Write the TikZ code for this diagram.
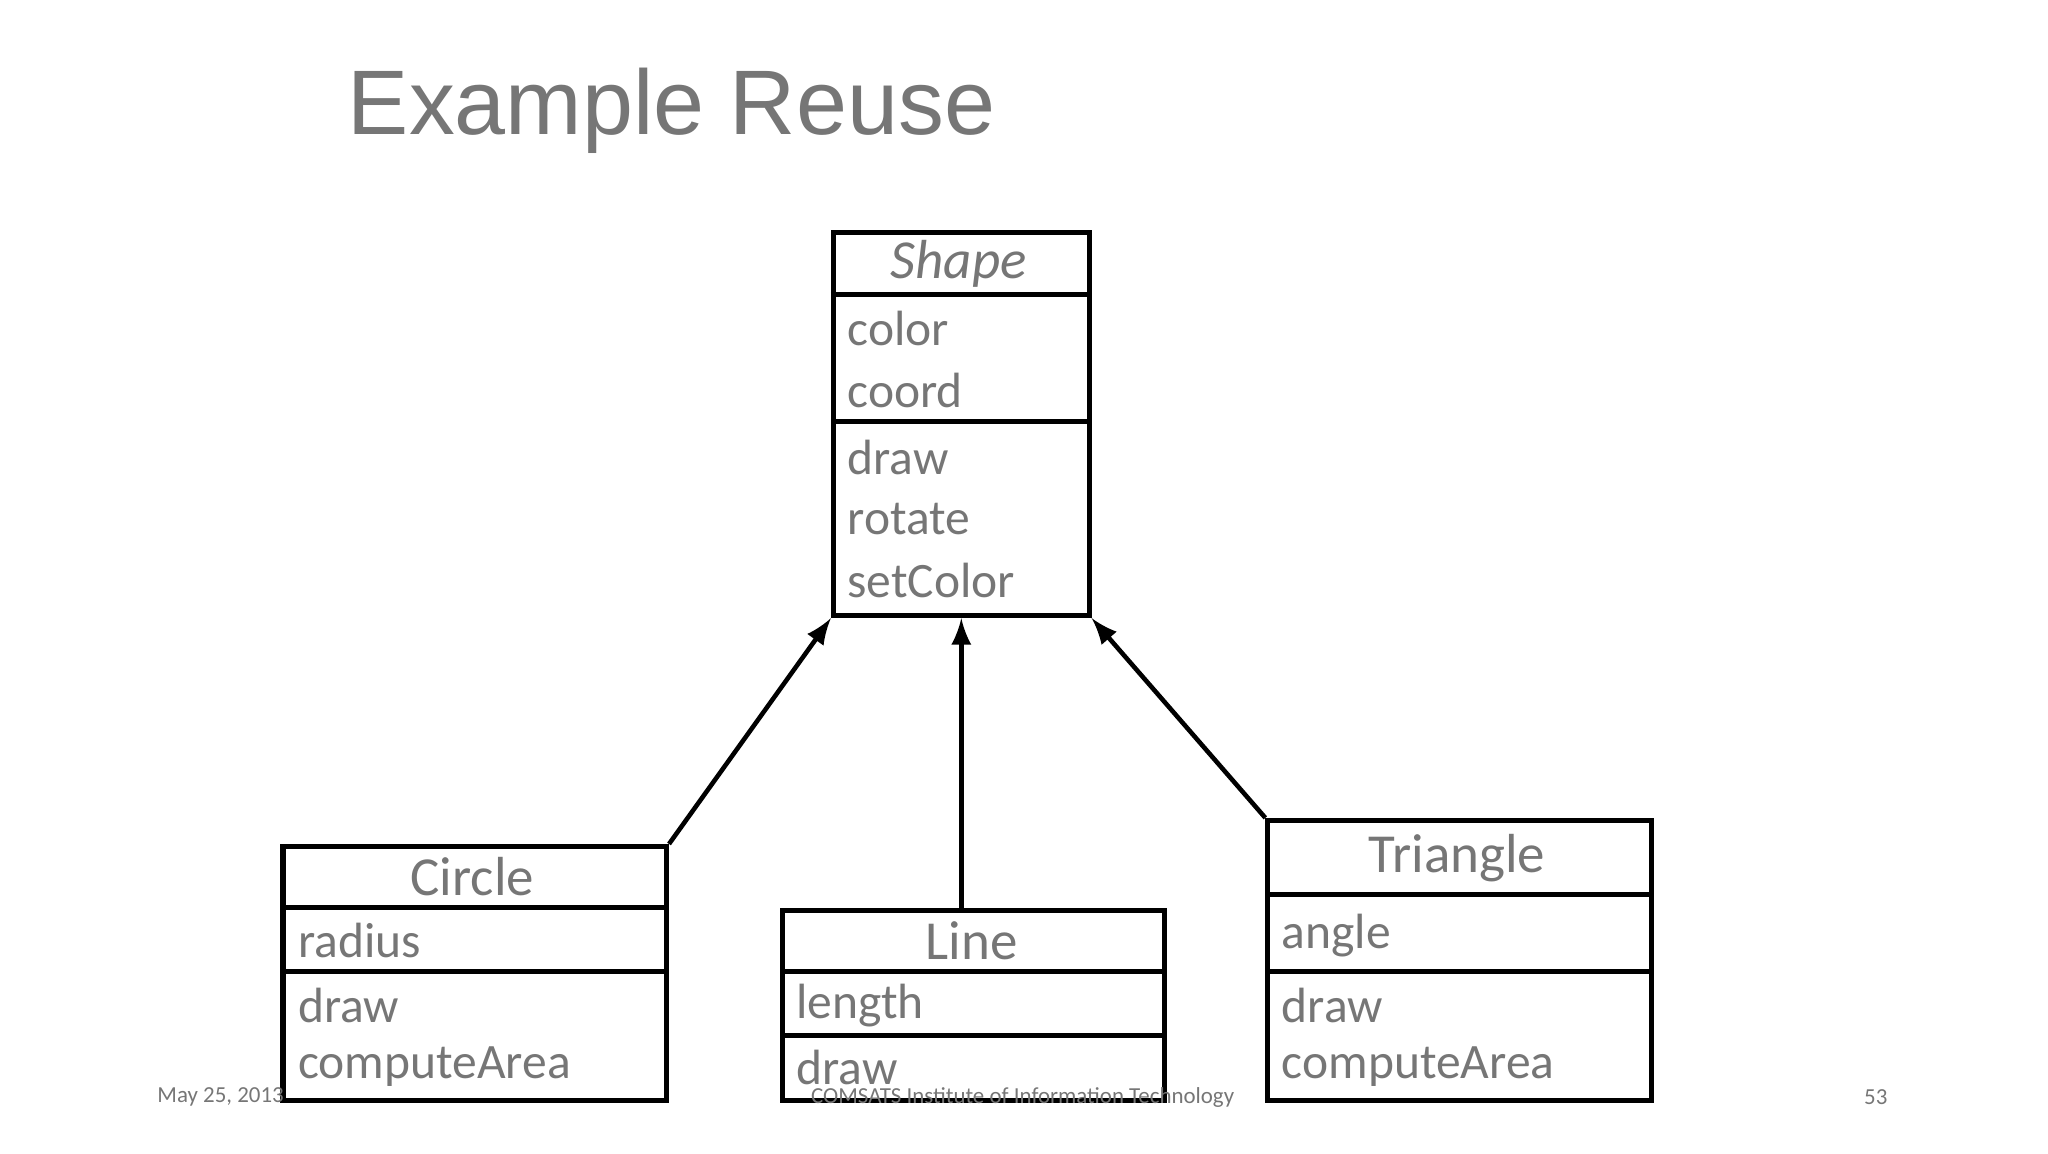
\documentclass[tikz,border=0pt]{standalone}
\usepackage{fontspec}
\setmainfont{Carlito}
\newfontfamily\titlefont{Liberation Sans}
\definecolor{txt}{HTML}{767676}
\begin{document}
\begin{tikzpicture}[
  box/.style={draw=black,line width=1.1pt,anchor=north west,inner sep=0pt},
  sep/.style={draw=black,line width=1.1pt},
  item/.style={anchor=west,inner sep=0pt,text=txt,font=\fontsize{10.8}{12}\selectfont},
  head/.style={inner sep=0pt,text=txt,font=\fontsize{12}{14}\selectfont},
  foot/.style={inner sep=0pt,text=txt,font=\fontsize{5}{6}\selectfont},
  arr/.style={-latex,line width=1pt}]
\useasboundingbox (0,-0.12) rectangle (15.7,8.72);
\node[anchor=west,inner sep=0pt,text=txt,font=\titlefont\fontsize{20}{24}\selectfont] (title) at (2.66,7.87) {Example Reuse};

% Shape
\node[box,minimum width=1.96cm,minimum height=2.94cm] (shape) at (6.37,6.96) {};
\draw[sep] (6.37,6.46) -- (8.33,6.46) (6.37,5.49) -- (8.33,5.49);
\node[head] (shapet) at (7.35,6.70) {\textit{Shape}};
\node[item] (s1) at (6.49,6.20) {color};
\node[item] (s2) at (6.49,5.73) {coord};
\node[item] (s3) at (6.49,5.21) {draw};
\node[item] (s4) at (6.49,4.74) {rotate};
\node[item] (s5) at (6.49,4.27) {setColor};

% Circle
\node[box,minimum width=2.94cm,minimum height=1.95cm] (circle) at (2.15,2.25) {};
\draw[sep] (2.15,1.76) -- (5.09,1.76) (2.15,1.27) -- (5.09,1.27);
\node[head] (circlet) at (3.62,2.00) {Circle};
\node[item] (c1) at (2.28,1.51) {radius};
\node[item] (c2) at (2.28,1.01) {draw};
\node[item] (c3) at (2.28,0.54) {computeArea};

% Line
\node[box,minimum width=2.93cm,minimum height=1.46cm] (line) at (5.98,1.76) {};
\draw[sep] (5.98,1.27) -- (8.91,1.27) (5.98,0.78) -- (8.91,0.78);
\node[head] (linet) at (7.45,1.51) {Line};
\node[item] (l1) at (6.10,1.01) {length};
\node[item] (l2) at (6.10,0.54) {draw};

% Triangle
\node[box,minimum width=2.94cm,minimum height=2.15cm] (tri) at (9.70,2.45) {};
\draw[sep] (9.70,1.86) -- (12.64,1.86) (9.70,1.27) -- (12.64,1.27);
\node[head] (trit) at (11.17,2.14) {Triangle};
\node[item] (t1) at (9.82,1.55) {angle};
\node[item] (t2) at (9.82,1.01) {draw};
\node[item] (t3) at (9.82,0.54) {computeArea};

% inheritance
\coordinate (lineup) at (shape.south |- line.north);
\draw[arr] (circle.north east) -- (shape.south west);
\draw[arr] (lineup) -- (shape.south);
\draw[arr] (tri.north west) -- (shape.south east);

% footer
\node[foot,anchor=west] (date) at (1.20,0.31) {May 25, 2013};
\node[foot] (inst) at (7.84,0.31) {COMSATS Institute of Information Technology};
\node[foot] (page) at (14.38,0.31) {53};
\end{tikzpicture}
\end{document}
